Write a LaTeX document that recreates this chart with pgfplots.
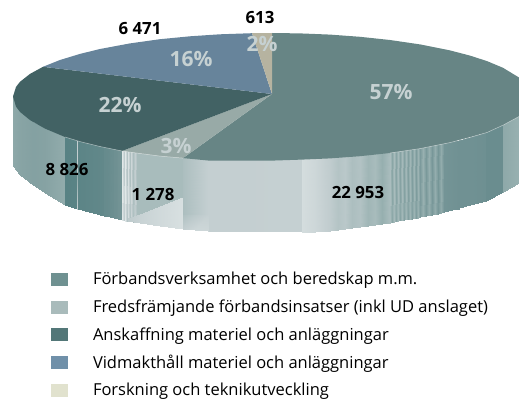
\documentclass[border=0pt]{standalone}
\usepackage{pgfplots}
\pgfplotsset{compat=1.18}
\usepackage{fontspec}
\setmainfont{Open Sans}
\definecolor{sA}{RGB}{103,133,133}
\definecolor{sB}{RGB}{152,170,167}
\definecolor{sC}{RGB}{66,98,100}
\definecolor{sD}{RGB}{103,132,155}
\definecolor{sE}{RGB}{182,179,160}
\definecolor{lA}{RGB}{111,145,145}
\definecolor{lB}{RGB}{169,187,187}
\definecolor{lC}{RGB}{83,119,120}
\definecolor{lD}{RGB}{112,144,169}
\definecolor{lE}{RGB}{225,226,206}
\definecolor{pct}{RGB}{198,209,210}
\pgfplotsset{
  base/.style={hide axis,scale only axis,width=519bp,height=401bp,at={(0,0)},anchor=south west,
    xmin=0,xmax=519,ymin=0,ymax=401,y dir=reverse,clip=true},
  colormap={side}{rgb255(85pt)=(85,128,130) rgb255(112pt)=(112,145,147) rgb255(150pt)=(150,175,175) rgb255(196pt)=(196,207,209) rgb255(230pt)=(230,236,236) rgb255(255pt)=(255,255,255)},
}
\begin{document}
\begin{tikzpicture}
\useasboundingbox (0,0) rectangle (519bp,401bp);
\begin{axis}[base,view={0}{90},zmin=-1,zmax=1,colormap name=side,point meta min=85,point meta max=255]
\addplot3[surf,shader=interp,mesh/ordering=y varies,mesh/rows=2,point meta=explicit] coordinates {
(13,96,0) [142] (13,166,0) [142]
(20,111,0) [136] (20,175,0) [136]
(33,122,0) [132] (33,185,0) [132]
(45,128,0) [134] (45,193,0) [134]
(64.9,136,0) [146] (64.9,205,0) [146]
(65,136,0) [88] (65,205,0) [88]
(76.8,140,0) [90] (76.8,208.5,0) [90]
(77.2,140,0) [195] (77.2,208.6,0) [195]
(77.6,140,0) [92] (77.6,208.7,0) [92]
(103.7,146,0) [98] (103.7,216,0) [98]
(104,146,0) [185] (104,216,0) [185]
(104.4,146,0) [102] (104.4,216,0) [102]
(109.7,147,0) [104] (109.7,217,0) [104]
(110,147,0) [185] (110,217,0) [185]
(110.4,147,0) [106] (110.4,217,0) [106]
(113.7,148,0) [108] (113.7,218,0) [108]
(114,148,0) [185] (114,218,0) [185]
(114.4,148,0) [110] (114.4,218,0) [110]
(117.7,149,0) [112] (117.7,219,0) [112]
(118,149,0) [185] (118,219,0) [185]
(118.4,149,0) [114] (118.4,219,0) [114]
(121.8,150,0) [116] (121.8,220,0) [116]
(122,150,0) [225] (122,220,0) [225]
(123.5,150,0) [190] (123.5,220,0) [190]
(125,150,0) [225] (125,220.5,0) [225]
(126.5,151,0) [180] (126.5,221,0) [180]
(128,151,0) [215] (128,221,0) [215]
(129.5,151,0) [175] (129.5,221,0) [175]
(131,151,0) [205] (131,221,0) [205]
(133,152,0) [172] (133,222,0) [172]
(135,152,0) [195] (135,222,0) [195]
(137,152,0) [168] (137,222,0) [168]
(182.9,157,0) [168] (182.9,228.5,0) [168]
(183,157,0) [172] (183,228.5,0) [172]
(208,159,0) [196] (208,231,0) [196]
(301.9,158.5,0) [197] (301.9,232,0) [197]
(302,158.5,0) [212] (302,232,0) [212]
(315,158,0) [205] (315,231.5,0) [205]
(330,157,0) [192] (330,230.5,0) [192]
(338,156.5,0) [180] (338,229.5,0) [180]
(345,156,0) [186] (345,229,0) [186]
(352,155.5,0) [172] (352,228,0) [172]
(360,155,0) [178] (360,227,0) [178]
(368,154,0) [160] (368,226,0) [160]
(375,153,0) [168] (375,225,0) [168]
(382,152.5,0) [150] (382,224,0) [150]
(390,152,0) [170] (390,222.5,0) [170]
(392,151.5,0) [138] (392,222,0) [138]
(394,151,0) [168] (394,221.5,0) [168]
(396,151,0) [136] (396,221,0) [136]
(398,150.5,0) [166] (398,220.5,0) [166]
(400,150,0) [134] (400,220,0) [134]
(402,150,0) [165] (402,220,0) [165]
(404,149.5,0) [132] (404,219.5,0) [132]
(406,149.5,0) [162] (406,219,0) [162]
(408,149,0) [130] (408,219,0) [130]
(410,148.5,0) [160] (410,218.5,0) [160]
(412,148.5,0) [128] (412,218.5,0) [128]
(414,148,0) [158] (414,218,0) [158]
(416,148,0) [126] (416,217.5,0) [126]
(418,148,0) [156] (418,217.5,0) [156]
(420,147.5,0) [124] (420,217,0) [124]
(423,146.5,0) [152] (423,216,0) [152]
(426,146,0) [122] (426,215.5,0) [122]
(429,145.5,0) [150] (429,215,0) [150]
(432,145,0) [120] (432,214.5,0) [120]
(435,144.5,0) [148] (435,214,0) [148]
(438,144,0) [118] (438,213.5,0) [118]
(441,143.5,0) [146] (441,213,0) [146]
(444,143,0) [116] (444,212,0) [116]
(451.7,141,0) [114] (451.7,210,0) [114]
(452,141,0) [170] (452,210,0) [170]
(452.4,141,0) [114] (452.4,210,0) [114]
(458.7,140,0) [112] (458.7,208.5,0) [112]
(459,140,0) [175] (459,208.5,0) [175]
(459.4,140,0) [112] (459.4,208,0) [112]
(470,136.5,0) [112] (470,205,0) [112]
(485.7,132,0) [110] (485.7,201,0) [110]
(486,131.5,0) [185] (486,201,0) [185]
(486.4,131.5,0) [106] (486.4,200.5,0) [106]
(503,124,0) [106] (503,191.5,0) [106]
(503.1,124,0) [142] (503.1,191.5,0) [142]
(519,115,0) [152] (519,183,0) [152]
};
\addplot3[surf,shader=interp,mesh/ordering=y varies,mesh/rows=2,point meta=explicit] coordinates {
(128,218,0) [190] (128,221,0) [190]
(140,213.5,0) [200] (140,223,0) [200]
(160,205.5,0) [208] (160,226,0) [208]
(182.9,197,0) [216] (182.9,228.5,0) [216]
};
\addplot3[surf,shader=interp,mesh/ordering=y varies,mesh/rows=2,point meta=explicit] coordinates {
(183,215,0) [176] (183,228.5,0) [195]
(195,215,0) [188] (195,230,0) [205]
(208,215,0) [197] (208,231,0) [205]
};
\end{axis}
\begin{axis}[base,
  legend style={draw=none,fill=none,at={(axis cs:51,272.6)},anchor=north west,inner sep=0pt,outer sep=0pt,
    font=\fontsize{16.5bp}{18bp}\selectfont,legend cell align=left,row sep=11.3bp,
    nodes={inner sep=0pt,text height=12bp,text depth=4.5bp},
    /tikz/every odd column/.append style={column sep=25bp}},
  legend cell align=left,
  legend image code/.code={\fill[#1,draw=none] (0bp,-5bp) rectangle (17bp,8bp);}]
% top face: slices
\addplot[fill=sA,draw=none,forget plot] coordinates {
(272,94) (183,158.1) (208,160.5) (240,160.7) (272,160.6) (302,159.6) (330,158.4) (360,156.2) (390,153) (420,148.6) (450,142.6) (470,137.4) (487,132.5) (503,125.2) (519,116.5) (519,77.5) (503,67.8) (487,61.1) (470,55.6) (450,50.4) (420,44.4) (390,40) (360,36.8) (330,34.6) (300,33.4) (272,33) (272,94)};
\addplot[fill=sB,draw=none,forget plot] coordinates {
(272,94) (122,151) (140,153.5) (160,156.1) (183,158.1) (272,94)};
\addplot[fill=sC,draw=none,forget plot] coordinates {
(272,94) (43,66.8) (30,73.9) (20,81.8) (16,86.9) (13,96.5) (16,106.6) (20,111.9) (30,120.1) (45,128.6) (65,137) (80,141.6) (100,146.5) (122,151) (272,94)};
\addplot[fill=sD,draw=none,forget plot] coordinates {
(272,94) (252,33.2) (220,34.3) (190,36.3) (160,39.2) (130,43.4) (100,49) (80,53.9) (60,60) (43,66.8) (272,94)};
\addplot[fill=sE,draw=none,forget plot] coordinates {
(272,94) (272,33) (252,33.2) (272,94)};
% rim highlight
\addplot[draw=white,opacity=0.55,line width=0.5bp,forget plot] coordinates {
(65,137) (80,141.6) (100,146.5) (122,151) (140,153.5) (160,156.1) (183,158.1)};
\addplot[draw=white,opacity=0.55,line width=0.5bp,forget plot] coordinates {
(390,153) (420,148.6) (450,142.6) (470,137.4) (487,132.5) (503,125.2) (519,116.5)};
% texts
\node[font=\fontsize{16.8bp}{18bp}\selectfont\bfseries,text=black] at (axis cs:140,29) {6 471};
\node[font=\fontsize{16.8bp}{18bp}\selectfont\bfseries,text=black] at (axis cs:260,18) {613};
\node[font=\fontsize{16.8bp}{18bp}\selectfont\bfseries,text=black] at (axis cs:67,169) {8 826};
\node[font=\fontsize{16.8bp}{18bp}\selectfont\bfseries,text=black] at (axis cs:153,194) {1 278};
\node[font=\fontsize{16.8bp}{18bp}\selectfont\bfseries,text=black] at (axis cs:358,192) {22 953};
\node[font=\fontsize{21bp}{22bp}\selectfont\bfseries,text=pct] at (axis cs:391,92) {57\%};
\node[font=\fontsize{21bp}{22bp}\selectfont\bfseries,text=pct] at (axis cs:191,59) {16\%};
\node[font=\fontsize{21bp}{22bp}\selectfont\bfseries,text=pct] at (axis cs:120,105) {22\%};
\node[font=\fontsize{21bp}{22bp}\selectfont\bfseries,text=pct] at (axis cs:176,146) {3\%};
\node[font=\fontsize{21bp}{22bp}\selectfont\bfseries,text=pct] at (axis cs:262,44) {2\%};
\addlegendimage{fill=lA}\addlegendentry{Förbandsverksamhet och beredskap m.m.}
\addlegendimage{fill=lB}\addlegendentry{Fredsfrämjande förbandsinsatser (inkl UD anslaget)}
\addlegendimage{fill=lC}\addlegendentry{Anskaffning materiel och anläggningar}
\addlegendimage{fill=lD}\addlegendentry{Vidmakthåll materiel och anläggningar}
\addlegendimage{fill=lE}\addlegendentry{Forskning och teknikutveckling}
\end{axis}
\end{tikzpicture}
\end{document}
